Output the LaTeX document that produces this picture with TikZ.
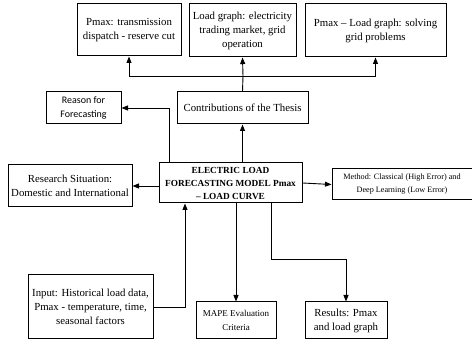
\documentclass[tikz,border=0pt]{standalone}
\usepackage{fontspec}
\setmainfont{Liberation Serif}
\newfontfamily\calibfont{Carlito}
\usepackage{tikz}
\usetikzlibrary{arrows,arrows.meta}

\begin{document}
\begin{tikzpicture}[x=1pt,y=-1pt,
    box/.style={draw,line width=1pt,align=center,inner sep=1pt,font=\fontsize{10.8}{14}\selectfont},
    link/.style={->,line width=0.9pt,>={Triangle[length=6.5pt,width=5pt]}}]
            \useasboundingbox (0,0) rectangle (472,344);
            \node[box,minimum width=104,minimum height=52] (T1) at (129,30) {Pmax: transmission\\dispatch - reserve cut};
            \node[box,minimum width=107,minimum height=53] (T2) at (242.5,30.5) {Load graph: electricity\\trading market, grid\\operation};
            \node[box,minimum width=141,minimum height=53] (T3) at (375.5,30.5) {Pmax -- Load graph: solving\\grid problems};
            \node[box,minimum width=131,minimum height=32] (C) at (242.5,108) {Contributions of the Thesis};
            \node[box,minimum width=75,minimum height=32,font=\calibfont\fontsize{10}{14}\selectfont] (R) at (83.5,108) {Reason for\\Forecasting};
            \node[box,minimum width=143,minimum height=40,font=\bfseries\fontsize{9.3}{13}\selectfont] (M) at (230.5,183) {ELECTRIC LOAD\\FORECASTING MODEL Pmax\\-- LOAD CURVE};
            \node[box,minimum width=124,minimum height=42] (S) at (70,186) {Research Situation:\\Domestic and International};
            \node[box,minimum width=140,minimum height=31,font=\fontsize{8.2}{13}\selectfont] (D) at (402,184.5) {Method: Classical (High Error) and\\Deep Learning (Low Error)};
            \node[box,minimum width=125,minimum height=64] (I) at (90.5,307) {Input: Historical load data,\\Pmax - temperature, time,\\seasonal factors};
            \node[box,minimum width=80,minimum height=37,font=\fontsize{9}{14}\selectfont] (E) at (236,320.5) {MAPE Evaluation\\Criteria};
            \node[box,minimum width=82,minimum height=37] (O) at (346,320.5) {Results: Pmax\\and load graph};
            \coordinate (J) at (243,76);
            \coordinate (K) at (271,259);
            \draw[line width=0.9pt] (C.north) -- (J);
            \draw[link] (J) -- (T2.south);
            \draw[link] (J) -| (T1.south);
            \draw[link] (J) -| (T3.south);
            \draw[link] (M.north -| C.south) -- (C.south);
            \draw[link] ([xshift=11pt]M.north west) |- (R.east);
            \draw[link] (M.west |- S.east) -- (S.east);
            \draw[link] (M.east) -- (D.west);
            \draw[link] (I.east) -| ([xshift=-45.5pt]M.south);
            \draw[link] (M.south -| E.north) -- (E.north);
            \draw[link] (M.south -| K) -- (K) -| (O.north);
        \end{tikzpicture}
\end{document}
